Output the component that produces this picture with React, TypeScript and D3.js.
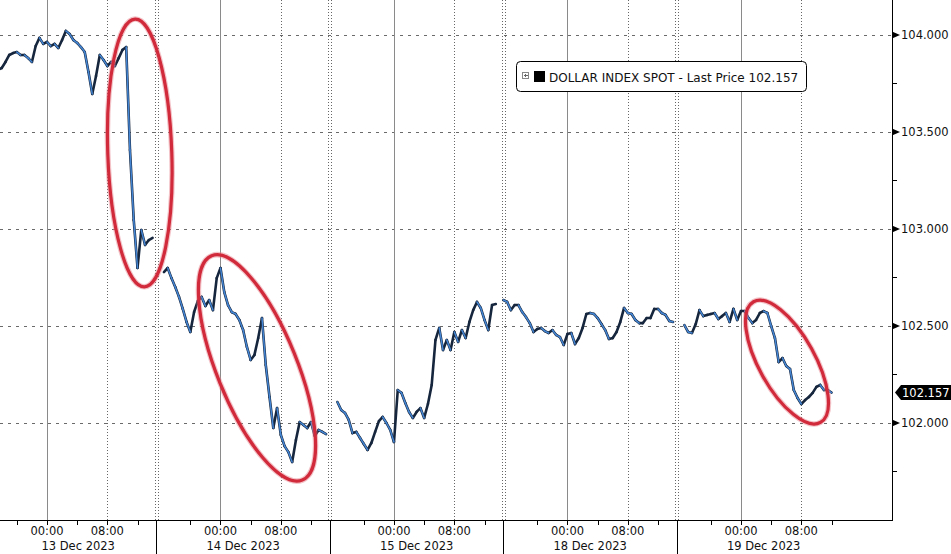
import { useEffect, useRef } from 'react';
import * as d3 from 'd3';

const WIDTH = 951;
const HEIGHT = 554;

// each trading day on the chart is a 23h session, 15:30 the day before to 14:30
const SESSION_HOURS = 23;
const SESSION_OPEN = -8.5;
const SESSION_CLOSE = 14.5;
const BAR_HOURS = 0.5;

const days = ['13 Dec 2023', '14 Dec 2023', '15 Dec 2023', '18 Dec 2023', '19 Dec 2023'];
// hour (from that day's midnight) of the first 30 min bar of each day
const firstBarHour = [-6.5, -7.5, -7.5, -8.5, -7.5];

// closes
const dec13 = [
  103.820, 103.830, 103.861, 103.897, 103.907, 103.912, 103.897, 103.897, 103.881, 103.861,
  103.943, 103.985, 103.954, 103.964, 103.943, 103.954, 103.933, 103.974, 104.021, 104.005,
  103.974, 103.959, 103.938, 103.912, 103.809, 103.696, 103.789, 103.897, 103.871, 103.840,
  103.861, 103.840, 103.881, 103.923, 103.938, 103.407, 103.046, 102.799, 102.995, 102.918,
  102.943, 102.954,
];
const dec14 = [
  102.778, 102.799, 102.747, 102.701, 102.650, 102.588, 102.521, 102.469, 102.572, 102.629,
  102.650, 102.603, 102.634, 102.582, 102.747, 102.799, 102.675, 102.608, 102.572, 102.562,
  102.531, 102.479, 102.392, 102.325, 102.351, 102.438, 102.541, 102.299, 102.134, 101.974,
  102.077, 101.938, 101.881, 101.850, 101.799, 101.912, 102.005, 101.990, 101.974, 102.005,
  101.933, 101.964, 101.954, 101.943,
];
const dec15 = [
  102.108, 102.067, 102.052, 102.016, 101.948, 101.954, 101.923, 101.892, 101.861, 101.897,
  101.954, 102.010, 102.031, 102.000, 101.964, 101.902, 102.170, 102.155, 102.103, 102.057,
  102.026, 102.057, 102.077, 102.026, 102.098, 102.196, 102.428, 102.490, 102.376, 102.428,
  102.376, 102.469, 102.418, 102.479, 102.438, 102.521, 102.582, 102.624, 102.593, 102.531,
  102.479, 102.608, 102.613,
];
const dec18 = [
  102.634, 102.624, 102.582, 102.608, 102.608, 102.572, 102.546, 102.515, 102.469, 102.485,
  102.490, 102.474, 102.464, 102.479, 102.454, 102.443, 102.402, 102.459, 102.464, 102.407,
  102.438, 102.490, 102.562, 102.567, 102.562, 102.541, 102.510, 102.479, 102.433, 102.438,
  102.469, 102.521, 102.593, 102.567, 102.562, 102.531, 102.515, 102.515, 102.541, 102.541,
  102.588, 102.588, 102.567, 102.557, 102.526, 102.521,
];
const dec19 = [
  102.505, 102.469, 102.464, 102.510, 102.582, 102.551, 102.557, 102.562, 102.567, 102.536,
  102.551, 102.567, 102.521, 102.588, 102.531, 102.577, 102.577, 102.541, 102.515, 102.531,
  102.567, 102.577, 102.567, 102.500, 102.438, 102.314, 102.335, 102.294, 102.278, 102.170,
  102.129, 102.098, 102.118, 102.134, 102.155, 102.186, 102.196, 102.170, 102.170, 102.157,
];
const closes = [dec13, dec14, dec15, dec18, dec19];

const yTicks = [102, 102.5, 103, 103.5, 104];
const yMinorTicks = [101.75, 102.25, 102.75, 103.25, 103.75];
const hourTicks = [0, 8];
const hourLabels = ['00:00', '08:00'];
const minorHourTicks = [-4, 0, 4, 8, 12];
const lastPrice = 102.157;
const legendLabel = 'DOLLAR INDEX SPOT - Last Price 102.157';

// red rings: day, hour and price of their centres
const ringDay = [0, 1, 4];
const ringHour = [12.3, 4.84, 6.1];
const ringPrice = [103.392, 102.284, 102.314];
const ringShape = [
  { rx: 32, ry: 134, rot: -2 },
  { rx: 40, ry: 121, rot: -22 },
  { rx: 28, ry: 69, rot: -29 },
];

const FONT = '"DejaVu Sans", Verdana, sans-serif';

export default function App() {
  const svgRef = useRef<SVGSVGElement | null>(null);

  useEffect(() => {
    const svg = d3.select(svgRef.current);
    svg.selectAll('*').remove();

    const plotRight = 892;
    const plotBottom = 520;

    const xScale = d3.scaleLinear().domain([-6.23, 112.02]).range([0, plotRight]);
    const yScale = d3.scaleLinear().domain([101.5, 104.1804]).range([plotBottom, 0]);
    const at = (day: number, hour: number) => xScale(day * SESSION_HOURS + hour);
    const crisp = (v: number) => Math.round(v) + 0.5;

    svg.append('rect').attr('width', WIDTH).attr('height', HEIGHT).attr('fill', '#fff');

    svg.append('clipPath').attr('id', 'plot-clip')
      .append('rect').attr('width', plotRight).attr('height', plotBottom);

    // grid
    const grid = svg.append('g');
    yTicks.forEach((v) => {
      grid.append('line')
        .attr('x1', 0).attr('x2', plotRight)
        .attr('y1', crisp(yScale(v))).attr('y2', crisp(yScale(v)))
        .attr('stroke', '#6a6a6a')
        .attr('stroke-dasharray', '3 5');
    });
    days.forEach((_, d) => {
      const x0 = crisp(at(d, hourTicks[0]));
      grid.append('line')
        .attr('x1', x0).attr('x2', x0).attr('y1', 0).attr('y2', plotBottom)
        .attr('stroke', '#8a8a8a');
      const x8 = crisp(at(d, hourTicks[1]));
      grid.append('line')
        .attr('x1', x8).attr('x2', x8).attr('y1', 0).attr('y2', plotBottom)
        .attr('stroke', '#666').attr('stroke-dasharray', '1 2');
      const xb = at(d, SESSION_OPEN);
      [-1.5, 1.5].forEach((off) => {
        grid.append('line')
          .attr('x1', crisp(xb + off)).attr('x2', crisp(xb + off))
          .attr('y1', 0).attr('y2', plotBottom)
          .attr('stroke', '#666').attr('stroke-dasharray', '1 2');
      });
    });

    // price moves between consecutive 30 min closes: dark outline, falling ones filled blue
    const moves = closes.flatMap((series, d) => series.slice(1).map((c, i) => ({
      x0: at(d, firstBarHour[d] + i * BAR_HOURS),
      x1: at(d, firstBarHour[d] + (i + 1) * BAR_HOURS),
      open: series[i],
      close: c,
    })));
    const price = svg.append('g')
      .attr('clip-path', 'url(#plot-clip)')
      .attr('stroke-linecap', 'round');
    price.selectAll('line.edge')
      .data(moves)
      .join('line')
      .attr('class', 'edge')
      .attr('x1', (m) => m.x0).attr('x2', (m) => m.x1)
      .attr('y1', (m) => yScale(m.open)).attr('y2', (m) => yScale(m.close))
      .attr('stroke', '#16263d')
      .attr('stroke-width', 2.6);
    price.selectAll('line.down')
      .data(moves.filter((m) => m.close < m.open))
      .join('line')
      .attr('class', 'down')
      .attr('x1', (m) => m.x0).attr('x2', (m) => m.x1)
      .attr('y1', (m) => yScale(m.open)).attr('y2', (m) => yScale(m.close))
      .attr('stroke', '#4586d4')
      .attr('stroke-width', 1.5);

    // red rings
    const rings = svg.append('g').attr('fill', 'none');
    ringDay.forEach((d, i) => {
      const cx = at(d, ringHour[i]);
      const cy = yScale(ringPrice[i]);
      const s = ringShape[i];
      rings.append('ellipse')
        .attr('transform', `translate(${cx},${cy}) rotate(${s.rot})`)
        .attr('rx', s.rx).attr('ry', s.ry)
        .attr('stroke', '#e57b84').attr('stroke-width', 5.5).attr('opacity', 0.45);
      rings.append('ellipse')
        .attr('transform', `translate(${cx},${cy}) rotate(${s.rot})`)
        .attr('rx', s.rx).attr('ry', s.ry)
        .attr('stroke', '#d12a3a').attr('stroke-width', 3.2);
    });

    // right axis
    const yAxis = svg.append('g').attr('font-family', FONT).attr('font-size', 11.5);
    yAxis.append('line')
      .attr('x1', plotRight + 0.5).attr('x2', plotRight + 0.5)
      .attr('y1', 0).attr('y2', plotBottom + 1)
      .attr('stroke', '#000');
    yTicks.forEach((v) => {
      const y = yScale(v);
      yAxis.append('path')
        .attr('d', `M${plotRight},${y - 3.5}L${plotRight + 8},${y}L${plotRight},${y + 3.5}Z`)
        .attr('fill', '#000');
      yAxis.append('text')
        .attr('x', plotRight + 9).attr('y', y + 4.5)
        .attr('fill', '#111')
        .text(d3.format('.3f')(v));
    });
    yMinorTicks.forEach((v) => {
      yAxis.append('line')
        .attr('x1', plotRight).attr('x2', plotRight + 5)
        .attr('y1', crisp(yScale(v))).attr('y2', crisp(yScale(v)))
        .attr('stroke', '#000');
    });

    // last price tag
    const ly = yScale(lastPrice);
    yAxis.append('path')
      .attr('d', `M${plotRight + 3},${ly}L${plotRight + 9},${ly - 7.5}L${WIDTH},${ly - 7.5}L${WIDTH},${ly + 7.5}L${plotRight + 9},${ly + 7.5}Z`)
      .attr('fill', '#000');
    yAxis.append('text')
      .attr('x', plotRight + 10).attr('y', ly + 4.5)
      .attr('fill', '#fff')
      .text(d3.format('.3f')(lastPrice));

    // bottom axis
    const xAxis = svg.append('g').attr('font-family', FONT).attr('font-size', 11.5).attr('fill', '#111');
    xAxis.append('line')
      .attr('x1', 0).attr('x2', plotRight + 1)
      .attr('y1', plotBottom + 0.5).attr('y2', plotBottom + 0.5)
      .attr('stroke', '#000');
    days.forEach((label, d) => {
      minorHourTicks.forEach((h) => {
        const x = crisp(at(d, h));
        if (x < 0 || x > plotRight) return;
        xAxis.append('line')
          .attr('x1', x).attr('x2', x).attr('y1', plotBottom).attr('y2', plotBottom + 5)
          .attr('stroke', '#000');
      });
      hourTicks.forEach((h, i) => {
        xAxis.append('text')
          .attr('x', at(d, h)).attr('y', plotBottom + 15)
          .attr('text-anchor', 'middle')
          .text(hourLabels[i]);
      });
      const xb = crisp(at(d, SESSION_OPEN));
      if (xb > 0) {
        xAxis.append('line')
          .attr('x1', xb).attr('x2', xb).attr('y1', plotBottom).attr('y2', HEIGHT)
          .attr('stroke', '#000');
      }
      const left = Math.max(0, at(d, SESSION_OPEN));
      const right = Math.min(plotRight, at(d, SESSION_CLOSE));
      xAxis.append('text')
        .attr('x', (left + right) / 2).attr('y', plotBottom + 30)
        .attr('text-anchor', 'middle')
        .text(label);
    });

    // legend
    const legend = svg.append('g').attr('transform', 'translate(516,61)');
    legend.append('rect')
      .attr('x', 0.5).attr('y', 0.5).attr('width', 290).attr('height', 30).attr('rx', 4)
      .attr('fill', '#fff').attr('stroke', '#000');
    legend.append('rect')
      .attr('x', 6.5).attr('y', 11.5).attr('width', 6).attr('height', 6)
      .attr('fill', '#fff').attr('stroke', '#888');
    legend.append('path')
      .attr('d', 'M8,14.5H12M9.5,13V16')
      .attr('stroke', '#666');
    legend.append('rect')
      .attr('x', 18).attr('y', 10).attr('width', 11).attr('height', 11)
      .attr('fill', '#000');
    legend.append('text')
      .attr('x', 33).attr('y', 20.5)
      .attr('font-family', FONT).attr('font-size', 12)
      .attr('fill', '#111')
      .text(legendLabel);
  }, []);

  return (
    <svg
      ref={svgRef}
      width={WIDTH}
      height={HEIGHT}
      style={{ position: 'absolute', left: 0, top: 0, display: 'block' }}
    />
  );
}
